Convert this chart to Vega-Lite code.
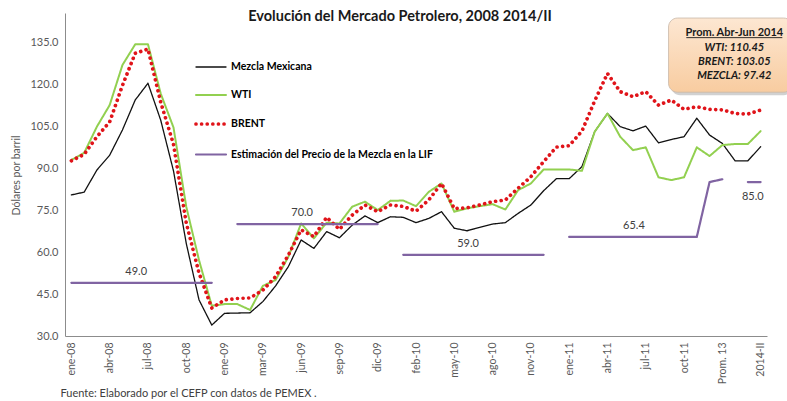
{
  "$schema": "https://vega.github.io/schema/vega-lite/v6.json",
  "width": 702,
  "height": 323,
  "autosize": {"type": "none"},
  "padding": {"left": 65, "top": 13, "right": 20, "bottom": 65},
  "background": "white",
  "config": {"view": {"stroke": null}, "font": "Lato"},
  "title": {"text": "Evolución del Mercado Petrolero, 2008 2014/II", "fontSize": 14.5, "fontWeight": "bold", "font": "Lato", "color": "#1a1a1a", "anchor": "middle", "frame": "group", "offset": -11, "dx": -16},
  "datasets": {
    "precios": [
      {"mes": "ene-08", "mezcla": 80.4, "wti": 92.9, "brent": 92.6, "lif": 49},
      {"mes": "feb-08", "mezcla": 81.4, "wti": 95.4, "brent": 94.9, "lif": 49},
      {"mes": "mar-08", "mezcla": 89.3, "wti": 104.8, "brent": 101.2, "lif": 49},
      {"mes": "abr-08", "mezcla": 94.6, "wti": 112.5, "brent": 106.5, "lif": 49},
      {"mes": "may-08", "mezcla": 103.6, "wti": 126.8, "brent": 119.5, "lif": 49},
      {"mes": "jun-08", "mezcla": 114.3, "wti": 134.2, "brent": 131.0, "lif": 49},
      {"mes": "jul-08", "mezcla": 120.3, "wti": 134.2, "brent": 132.5, "lif": 49},
      {"mes": "ago-08", "mezcla": 107.1, "wti": 116.6, "brent": 113.5, "lif": 49},
      {"mes": "sep-08", "mezcla": 89.0, "wti": 104.5, "brent": 98.5, "lif": 49},
      {"mes": "oct-08", "mezcla": 63.1, "wti": 76.2, "brent": 70.4, "lif": 49},
      {"mes": "nov-08", "mezcla": 42.9, "wti": 57.1, "brent": 52.5, "lif": 49},
      {"mes": "dic-08", "mezcla": 33.9, "wti": 40.8, "brent": 40.0, "lif": 49},
      {"mes": "ene-09", "mezcla": 38.1, "wti": 41.4, "brent": 42.9, "lif": null},
      {"mes": "ene-09 ", "mezcla": 38.2, "wti": 41.4, "brent": 43.4, "lif": 70},
      {"mes": "feb-09", "mezcla": 38.3, "wti": 39.3, "brent": 43.6, "lif": 70},
      {"mes": "mar-09", "mezcla": 42.3, "wti": 47.9, "brent": 46.4, "lif": 70},
      {"mes": "abr-09", "mezcla": 47.9, "wti": 50.0, "brent": 51.2, "lif": 70},
      {"mes": "may-09", "mezcla": 54.8, "wti": 58.3, "brent": 58.9, "lif": 70},
      {"mes": "jun-09", "mezcla": 64.3, "wti": 70.2, "brent": 67.9, "lif": 70},
      {"mes": "jul-09", "mezcla": 61.3, "wti": 64.9, "brent": 65.5, "lif": 70},
      {"mes": "ago-09", "mezcla": 67.3, "wti": 70.5, "brent": 72.4, "lif": 70},
      {"mes": "sep-09", "mezcla": 65.1, "wti": 70.2, "brent": 68.1, "lif": 70},
      {"mes": "oct-09", "mezcla": 69.6, "wti": 76.2, "brent": 73.2, "lif": 70},
      {"mes": "nov-09", "mezcla": 72.9, "wti": 78.0, "brent": 76.8, "lif": 70},
      {"mes": "dic-09", "mezcla": 70.5, "wti": 75.0, "brent": 74.4, "lif": 70},
      {"mes": "ene-10", "mezcla": 72.6, "wti": 78.3, "brent": 76.8, "lif": null},
      {"mes": "ene-10 ", "mezcla": 72.4, "wti": 78.4, "brent": 76.3, "lif": 59},
      {"mes": "feb-10", "mezcla": 70.5, "wti": 76.4, "brent": 74.6, "lif": 59},
      {"mes": "mar-10", "mezcla": 72.0, "wti": 81.5, "brent": 78.6, "lif": 59},
      {"mes": "abr-10", "mezcla": 74.4, "wti": 84.5, "brent": 84.5, "lif": 59},
      {"mes": "may-10", "mezcla": 68.5, "wti": 74.4, "brent": 75.5, "lif": 59},
      {"mes": "jun-10", "mezcla": 67.6, "wti": 75.6, "brent": 75.8, "lif": 59},
      {"mes": "jul-10", "mezcla": 68.8, "wti": 76.4, "brent": 76.8, "lif": 59},
      {"mes": "ago-10", "mezcla": 70.0, "wti": 77.1, "brent": 78.0, "lif": 59},
      {"mes": "sep-10", "mezcla": 70.5, "wti": 75.2, "brent": 78.6, "lif": 59},
      {"mes": "oct-10", "mezcla": 73.8, "wti": 82.1, "brent": 82.8, "lif": 59},
      {"mes": "nov-10", "mezcla": 76.8, "wti": 84.5, "brent": 86.9, "lif": 59},
      {"mes": "dic-10", "mezcla": 81.9, "wti": 89.5, "brent": 92.3, "lif": 59},
      {"mes": "ene-11", "mezcla": 86.2, "wti": 89.5, "brent": 97.5, "lif": null},
      {"mes": "ene-11 ", "mezcla": 86.2, "wti": 89.5, "brent": 98.0, "lif": 65.4},
      {"mes": "feb-11", "mezcla": 90.5, "wti": 89.0, "brent": 103.2, "lif": 65.4},
      {"mes": "mar-11", "mezcla": 103.0, "wti": 103.0, "brent": 114.0, "lif": 65.4},
      {"mes": "abr-11", "mezcla": 109.5, "wti": 109.5, "brent": 123.8, "lif": 65.4},
      {"mes": "may-11", "mezcla": 104.8, "wti": 101.2, "brent": 117.3, "lif": 65.4},
      {"mes": "jun-11", "mezcla": 103.3, "wti": 96.4, "brent": 115.5, "lif": 65.4},
      {"mes": "jul-11", "mezcla": 105.0, "wti": 97.4, "brent": 117.3, "lif": 65.4},
      {"mes": "ago-11", "mezcla": 99.0, "wti": 86.7, "brent": 112.5, "lif": 65.4},
      {"mes": "sep-11", "mezcla": 100.2, "wti": 85.7, "brent": 114.3, "lif": 65.4},
      {"mes": "oct-11", "mezcla": 101.2, "wti": 86.7, "brent": 111.0, "lif": 65.4},
      {"mes": "nov-11", "mezcla": 107.8, "wti": 97.4, "brent": 111.9, "lif": 65.4},
      {"mes": "Prom. 12", "mezcla": 101.8, "wti": 94.3, "brent": 111.0, "lif": 85.0},
      {"mes": "Prom. 13", "mezcla": 98.8, "wti": 98.2, "brent": 110.8, "lif": 86.0},
      {"mes": "2014-I", "mezcla": 92.6, "wti": 98.6, "brent": 109.5, "lif": null},
      {"mes": "2014-I ", "mezcla": 92.6, "wti": 98.6, "brent": 109.3, "lif": 85},
      {"mes": "2014-II", "mezcla": 97.6, "wti": 103.2, "brent": 110.7, "lif": 85}
    ],
    "etiquetasArriba": [
      {"mes": "jun-08", "lif": 49.0},
      {"mes": "jun-09", "lif": 70.0},
      {"mes": "jun-10", "lif": 59.0},
      {"mes": "jun-11", "lif": 65.4}
    ],
    "etiquetasAbajo": [
      {"mes": "2014-I ", "lif": 85.0}
    ]
  },
  "encoding": {
    "x": {
      "field": "mes", "type": "nominal",
      "scale": {"type": "point", "padding": 0.5, "domain": ["ene-08","feb-08","mar-08","abr-08","may-08","jun-08","jul-08","ago-08","sep-08","oct-08","nov-08","dic-08","ene-09","ene-09 ","feb-09","mar-09","abr-09","may-09","jun-09","jul-09","ago-09","sep-09","oct-09","nov-09","dic-09","ene-10","ene-10 ","feb-10","mar-10","abr-10","may-10","jun-10","jul-10","ago-10","sep-10","oct-10","nov-10","dic-10","ene-11","ene-11 ","feb-11","mar-11","abr-11","may-11","jun-11","jul-11","ago-11","sep-11","oct-11","nov-11","Prom. 12","Prom. 13","2014-I","2014-I ","2014-II"]},
      "axis": {
        "values": ["ene-08","abr-08","jul-08","oct-08","ene-09","mar-09","jun-09","sep-09","dic-09","feb-10","may-10","ago-10","nov-10","ene-11 ","abr-11","jul-11","oct-11","Prom. 13","2014-II"],
        "labelExpr": "trim(datum.label)",
        "labelAngle": -90, "labelAlign": "right", "labelBaseline": "middle",
        "labelPadding": 6, "ticks": false, "grid": false,
        "labelFontSize": 10.5, "labelColor": "#595959", "labelFont": "Lato", "labelOverlap": false,
        "domainColor": "#8c8c8c",
        "title": "Fuente: Elaborado por el CEFP con datos de PEMEX .",
        "titleAnchor": "start", "titleAlign": "left", "titleX": -5, "titleY": 60,
        "titleBaseline": "alphabetic", "titleFontSize": 11, "titleFontWeight": "normal",
        "titleColor": "#404040", "titleFont": "Lato"
      }
    }
  },
  "layer": [
    {
      "data": {"name": "precios"},
      "transform": [{"fold": ["mezcla", "wti", "brent", "lif"], "as": ["serie", "valor"]}],
      "mark": {"type": "line", "strokeCap": "round", "strokeJoin": "round", "invalid": "break-paths-filter-domains"},
      "encoding": {
        "y": {
          "field": "valor", "type": "quantitative",
          "scale": {"domain": [30, 145.4], "nice": false, "zero": false},
          "axis": {
            "values": [30, 45, 60, 75, 90, 105, 120, 135], "format": ".1f",
            "title": "Dólares por barril", "grid": false, "ticks": false,
            "labelPadding": 7, "labelFontSize": 11, "labelColor": "#595959", "labelFont": "Lato",
            "domainColor": "#8c8c8c",
            "titleFontSize": 10.5, "titleFontWeight": "normal", "titleColor": "#595959", "titleFont": "Lato",
            "titleX": -49, "titleY": 162, "titleAngle": 270, "titleBaseline": "middle", "titleAlign": "center"
          }
        },
        "color": {
          "field": "serie", "type": "nominal",
          "scale": {"domain": ["mezcla", "wti", "brent", "lif"], "range": ["#111111", "#92D050", "#E0141A", "#8064A2"]},
          "legend": {
            "title": null, "orient": "none", "legendX": 129, "legendY": 38, "direction": "vertical",
            "symbolType": "stroke", "symbolSize": 900, "rowPadding": 6, "padding": 0,
            "labelFontSize": 10.5, "labelFontWeight": "bold", "labelFont": "Lato", "labelColor": "#000000",
            "labelOffset": 3, "labelLimit": 400,
            "labelExpr": "datum.label == 'mezcla' ? 'Mezcla Mexicana' : datum.label == 'wti' ? 'WTI' : datum.label == 'brent' ? 'BRENT' : 'Estimación del Precio de la Mezcla en la LIF'",
            "encode": {"symbols": {"update": {"strokeCap": {"value": "round"}}}}
          }
        },
        "strokeDash": {
          "field": "serie", "type": "nominal",
          "scale": {"domain": ["mezcla", "wti", "brent", "lif"], "range": [[1, 0], [1, 0], [0.01, 5.6], [1, 0]]},
          "legend": {"title": null}
        },
        "strokeWidth": {
          "field": "serie", "type": "ordinal",
          "scale": {"type": "ordinal", "domain": ["mezcla", "wti", "brent", "lif"], "range": [1.3, 2, 3.7, 2.2]},
          "legend": {"title": null}
        }
      }
    },
    {
      "data": {"name": "etiquetasArriba"},
      "mark": {"type": "text", "dy": -11, "dx": 1, "fontSize": 11, "font": "Lato", "color": "#404040"},
      "encoding": {
        "y": {"field": "lif", "type": "quantitative"},
        "text": {"field": "lif", "type": "quantitative", "format": ".1f"}
      }
    },
    {
      "data": {"name": "etiquetasAbajo"},
      "mark": {"type": "text", "dy": 15, "dx": 5, "fontSize": 11, "font": "Lato", "color": "#404040"},
      "encoding": {
        "y": {"field": "lif", "type": "quantitative"},
        "text": {"field": "lif", "type": "quantitative", "format": ".1f"}
      }
    },
    {
      "data": {"values": [{}]},
      "mark": {"type": "rect", "cornerRadius": 9, "fill": "#9a9a9a", "opacity": 0.45, "xOffset": -13, "x2Offset": 32, "yOffset": 3, "y2Offset": 3},
      "encoding": {
        "x": {"datum": "oct-11"}, "x2": {"datum": "2014-II"},
        "y": {"datum": 143.6}, "y2": {"datum": 117.1}
      }
    },
    {
      "data": {"values": [{}]},
      "mark": {"type": "rect", "cornerRadius": 9, "xOffset": -15.5, "x2Offset": 32, "stroke": "#c8b8a8", "strokeWidth": 0.8,
        "fill": {"gradient": "linear", "x1": 0, "y1": 0, "x2": 0, "y2": 1, "stops": [{"offset": 0, "color": "#FDE7D2"}, {"offset": 1, "color": "#F8CCA0"}]}},
      "encoding": {
        "x": {"datum": "oct-11"}, "x2": {"datum": "2014-II"},
        "y": {"datum": 143.6}, "y2": {"datum": 117.1}
      }
    },
    {
      "data": {"values": [{}]},
      "mark": {"type": "text", "text": "Prom. Abr-Jun 2014", "dx": 12, "fontSize": 11, "fontWeight": "bold", "font": "Lato", "color": "#1a1a1a", "baseline": "middle", "align": "center"},
      "encoding": {"x": {"datum": "Prom. 13"}, "y": {"datum": 138.2}}
    },
    {
      "data": {"values": [{}]},
      "mark": {"type": "rule", "color": "#1a1a1a", "strokeWidth": 0.9, "xOffset": -36, "x2Offset": 60},
      "encoding": {"x": {"datum": "Prom. 13"}, "x2": {"datum": "Prom. 13"}, "y": {"datum": 136.6}}
    },
    {
      "data": {"values": [{}]},
      "mark": {"type": "text", "text": ["WTI: 110.45", "BRENT: 103.05", "MEZCLA: 97.42"], "lineHeight": 14, "dx": 12, "fontSize": 11, "fontWeight": "bold", "fontStyle": "italic", "font": "Lato", "color": "#1a1a1a", "baseline": "top", "align": "center"},
      "encoding": {"x": {"datum": "Prom. 13"}, "y": {"datum": 135.0}}
    }
  ]
}
